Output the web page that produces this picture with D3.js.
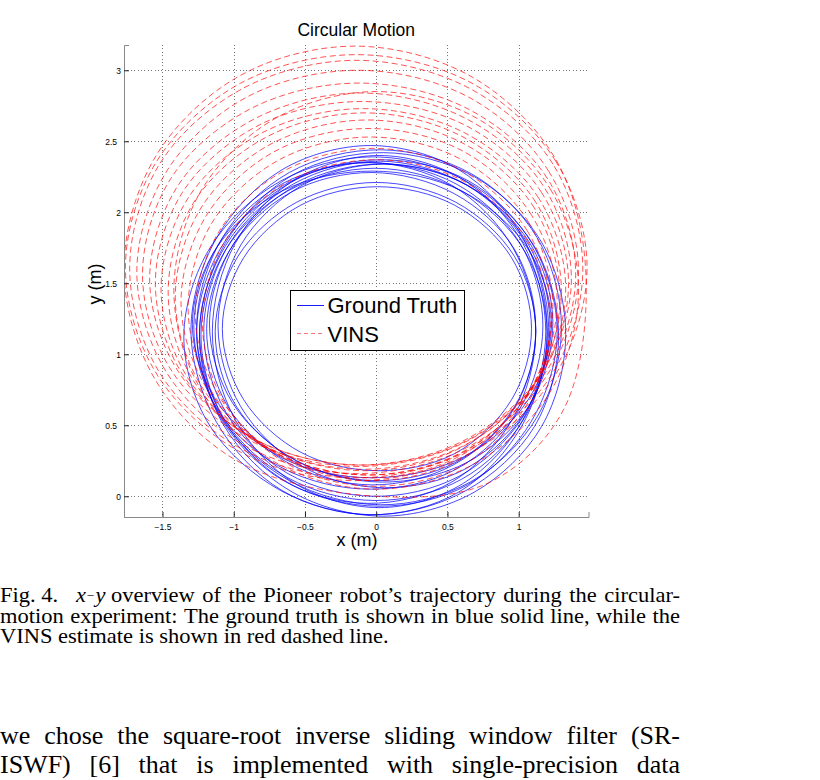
<!DOCTYPE html>
<html>
<head>
<meta charset="utf-8">
<script src="https://cdn.jsdelivr.net/npm/d3@7"></script>
<style>
  html, body { margin: 0; padding: 0; background: #fff; }
  svg { display: block; }
</style>
</head>
<body>
<svg id="chart" width="820" height="780"></svg>
<script>
// ---------------- DATA ----------------
const chartTitle = "Circular Motion";
const xLabel = "x (m)";
const yLabel = "y (m)";
const seriesNames = ["Ground Truth", "VINS"];
const xTicks = [-1.5, -1, -0.5, 0, 0.5, 1];
const yTicks = [0, 0.5, 1, 1.5, 2, 2.5, 3];
const xDomain = [-1.77, 1.49];
const yDomain = [-0.146, 3.178];

// Ground truth: successive laps, [x, y] points read around each lap
const groundTruth = [
  [[1.21,1.15],[1.05,1.78],[0.62,2.20],[0.02,2.36],[-0.58,2.20],[-1.03,1.78],[-1.21,1.18],[-1.06,0.60],[-0.62,0.16],[-0.02,0.00],[0.58,0.14],[1.03,0.56]],
  [[1.27,1.15],[1.10,1.77],[0.65,2.22],[0.02,2.37],[-0.60,2.21],[-1.06,1.76],[-1.24,1.16],[-1.07,0.54],[-0.61,0.09],[0.02,-0.07],[0.64,0.08],[1.09,0.53]],
  [[1.12,1.18],[0.97,1.74],[0.55,2.13],[-0.03,2.28],[-0.60,2.14],[-1.03,1.73],[-1.19,1.18],[-1.04,0.63],[-0.61,0.23],[-0.03,0.08],[0.54,0.22],[0.97,0.62]],
  [[1.33,1.14],[1.16,1.79],[0.69,2.25],[0.05,2.42],[-0.59,2.26],[-1.06,1.78],[-1.24,1.14],[-1.07,0.50],[-0.59,0.03],[0.05,-0.14],[0.69,0.03],[1.16,0.49]],
  [[1.17,1.20],[1.01,1.78],[0.56,2.20],[-0.05,2.35],[-0.66,2.20],[-1.11,1.77],[-1.28,1.20],[-1.12,0.62],[-0.66,0.20],[-0.05,0.05],[0.56,0.19],[1.01,0.62]],
  [[1.12,1.16],[0.97,1.69],[0.56,2.07],[0.00,2.21],[-0.56,2.07],[-0.97,1.69],[-1.13,1.16],[-0.98,0.63],[-0.56,0.25],[0.00,0.11],[0.56,0.24],[0.97,0.63]],
  [[1.30,1.19],[1.13,1.82],[0.67,2.27],[0.03,2.44],[-0.61,2.28],[-1.08,1.82],[-1.26,1.19],[-1.09,0.56],[-0.61,0.11],[0.03,-0.06],[0.66,0.10],[1.13,0.56]],
  [[1.12,1.15],[0.96,1.75],[0.53,2.19],[-0.06,2.35],[-0.65,2.19],[-1.09,1.75],[-1.26,1.15],[-1.09,0.55],[-0.65,0.11],[-0.06,-0.05],[0.53,0.10],[0.96,0.55]],
  [[1.24,1.22],[1.08,1.78],[0.64,2.19],[0.04,2.34],[-0.56,2.19],[-1.00,1.78],[-1.17,1.22],[-1.01,0.66],[-0.56,0.25],[0.04,0.10],[0.64,0.24],[1.08,0.65]],
  [[1.28,1.13],[1.11,1.76],[0.63,2.22],[-0.02,2.39],[-0.67,2.22],[-1.16,1.76],[-1.35,1.13],[-1.17,0.50],[-0.67,0.04],[-0.02,-0.13],[0.63,0.04],[1.11,0.49]],
  [[1.09,1.18],[0.95,1.68],[0.55,2.05],[0.01,2.18],[-0.53,2.05],[-0.93,1.68],[-1.08,1.18],[-0.93,0.68],[-0.53,0.31],[0.01,0.18],[0.55,0.30],[0.95,0.68]],
  [[1.20,1.17],[1.03,1.82],[0.58,2.30],[-0.04,2.47],[-0.66,2.30],[-1.12,1.82],[-1.30,1.17],[-1.12,0.52],[-0.66,0.04],[-0.04,-0.13],[0.58,0.03],[1.03,0.51]],
  [[1.22,1.20],[1.07,1.77],[0.64,2.19],[0.06,2.34],[-0.52,2.19],[-0.95,1.77],[-1.11,1.20],[-0.95,0.63],[-0.52,0.21],[0.06,0.06],[0.64,0.20],[1.07,0.63]],
  [[1.20,1.14],[1.04,1.73],[0.60,2.15],[-0.01,2.31],[-0.62,2.15],[-1.06,1.73],[-1.23,1.14],[-1.07,0.55],[-0.62,0.13],[-0.01,-0.03],[0.60,0.12],[1.04,0.55]],
  [[1.19,1.16],[1.03,1.78],[0.61,2.23],[0.02,2.40],[-0.57,2.23],[-0.99,1.78],[-1.15,1.16],[-0.99,0.54],[-0.57,0.09],[0.02,-0.08],[0.61,0.09],[1.03,0.54]],
  [[1.23,1.21],[1.06,1.75],[0.60,2.15],[-0.03,2.29],[-0.66,2.15],[-1.12,1.75],[-1.29,1.21],[-1.12,0.67],[-0.66,0.27],[-0.03,0.13],[0.60,0.27],[1.06,0.67]]
];

// VINS estimate: drifting laps, [x, y] points read around each lap
const vins = [
  [[1.22,1.22],[1.06,1.80],[0.61,2.22],[0.00,2.37],[-0.61,2.22],[-1.06,1.80],[-1.22,1.22],[-1.06,0.65],[-0.61,0.22],[0.00,0.07],[0.61,0.22],[1.06,0.65]],
  [[1.23,1.28],[1.06,1.87],[0.61,2.29],[-0.02,2.45],[-0.65,2.29],[-1.10,1.87],[-1.27,1.28],[-1.10,0.70],[-0.65,0.27],[-0.02,0.11],[0.61,0.27],[1.06,0.70]],
  [[1.24,1.33],[1.07,1.93],[0.60,2.37],[-0.04,2.53],[-0.68,2.37],[-1.15,1.93],[-1.32,1.33],[-1.15,0.73],[-0.68,0.29],[-0.04,0.13],[0.60,0.29],[1.07,0.73]],
  [[1.27,1.37],[1.09,1.98],[0.61,2.43],[-0.05,2.59],[-0.71,2.43],[-1.19,1.98],[-1.37,1.37],[-1.19,0.76],[-0.71,0.31],[-0.05,0.15],[0.61,0.31],[1.09,0.76]],
  [[1.29,1.40],[1.11,2.03],[0.62,2.48],[-0.06,2.65],[-0.74,2.48],[-1.23,2.03],[-1.41,1.40],[-1.23,0.78],[-0.74,0.32],[-0.06,0.15],[0.62,0.32],[1.11,0.78]],
  [[1.30,1.44],[1.12,2.07],[0.61,2.53],[-0.08,2.70],[-0.77,2.53],[-1.28,2.07],[-1.46,1.44],[-1.28,0.81],[-0.77,0.35],[-0.08,0.18],[0.61,0.35],[1.12,0.81]],
  [[1.33,1.46],[1.14,2.10],[0.62,2.56],[-0.09,2.73],[-0.80,2.56],[-1.32,2.10],[-1.51,1.46],[-1.32,0.83],[-0.80,0.36],[-0.09,0.19],[0.62,0.36],[1.14,0.83]],
  [[1.35,1.50],[1.16,2.14],[0.63,2.61],[-0.10,2.78],[-0.83,2.61],[-1.36,2.14],[-1.55,1.50],[-1.36,0.86],[-0.83,0.39],[-0.10,0.22],[0.63,0.39],[1.16,0.86]],
  [[1.37,1.53],[1.17,2.19],[0.63,2.66],[-0.11,2.84],[-0.85,2.66],[-1.39,2.19],[-1.59,1.53],[-1.39,0.88],[-0.85,0.40],[-0.11,0.22],[0.63,0.40],[1.17,0.88]],
  [[1.40,1.56],[1.20,2.24],[0.64,2.73],[-0.12,2.91],[-0.88,2.73],[-1.44,2.24],[-1.64,1.56],[-1.44,0.89],[-0.88,0.39],[-0.12,0.21],[0.64,0.39],[1.20,0.89]],
  [[1.42,1.58],[1.21,2.29],[0.65,2.81],[-0.13,3.00],[-0.91,2.81],[-1.47,2.29],[-1.68,1.58],[-1.47,0.87],[-0.91,0.35],[-0.13,0.16],[0.65,0.35],[1.21,0.87]],
  [[1.45,1.60],[1.24,2.34],[0.66,2.87],[-0.14,3.07],[-0.94,2.87],[-1.52,2.34],[-1.73,1.60],[-1.52,0.87],[-0.94,0.33],[-0.14,0.13],[0.66,0.33],[1.24,0.87]],
  [[1.48,1.61],[1.26,2.36],[0.67,2.91],[-0.14,3.11],[-0.95,2.91],[-1.54,2.36],[-1.76,1.61],[-1.54,0.86],[-0.95,0.31],[-0.14,0.11],[0.67,0.31],[1.26,0.86]],
  [[1.47,1.60],[1.25,2.39],[0.66,2.96],[-0.15,3.17],[-0.96,2.96],[-1.55,2.39],[-1.77,1.60],[-1.55,0.82],[-0.96,0.24],[0.00,0.00],[0.80,0.10],[1.32,0.62]],
  [[1.42,1.45],[1.23,2.15],[0.71,2.66],[0.00,2.85],[-0.71,2.66],[-1.23,2.15],[-1.42,1.45],[-1.23,0.75],[-0.71,0.24],[0.00,0.05],[0.71,0.24],[1.23,0.75]]
];

const captionLines = [
  "overview of the Pioneer robot’s trajectory during the circular-",
  "motion experiment: The ground truth is shown in blue solid line, while the",
  "VINS estimate is shown in red dashed line."
];
const bodyLines = [
  "we chose the square-root inverse sliding window filter (SR-",
  "ISWF) [6] that is implemented with single-precision data"
];

// ---------------- LAYOUT ----------------
const plot = { left: 124, right: 588.5, top: 45, bottom: 517 };
const svg = d3.select("#chart");
svg.append("rect").attr("width", 820).attr("height", 780).attr("fill", "#fff");

const x = d3.scaleLinear().domain(xDomain).range([plot.left, plot.right]);
const y = d3.scaleLinear().domain(yDomain).range([plot.bottom, plot.top]);

const sans = "'Liberation Sans', Arial, Helvetica, sans-serif";
const serif = "'Liberation Serif', 'Times New Roman', Times, serif";

// grid
const grid = svg.append("g").attr("stroke", "#777").attr("stroke-width", 1)
  .attr("stroke-dasharray", "1,2.4").attr("shape-rendering", "crispEdges");
grid.selectAll("line.v").data(xTicks).join("line").attr("class", "v")
  .attr("x1", d => Math.round(x(d)) + 0.5).attr("x2", d => Math.round(x(d)) + 0.5)
  .attr("y1", plot.top).attr("y2", plot.bottom);
grid.selectAll("line.h").data(yTicks).join("line").attr("class", "h")
  .attr("y1", d => Math.round(y(d)) + 0.5).attr("y2", d => Math.round(y(d)) + 0.5)
  .attr("x1", plot.left).attr("x2", plot.right);

// data
const line = d3.line().x(d => x(d[0])).y(d => y(d[1])).curve(d3.curveCatmullRomClosed.alpha(0.5));
svg.append("clipPath").attr("id", "clip").append("rect")
  .attr("x", plot.left).attr("y", plot.top)
  .attr("width", plot.right - plot.left).attr("height", plot.bottom - plot.top);

const dataG = svg.append("g").attr("clip-path", "url(#clip)");
dataG.selectAll("path.gt").data(groundTruth).join("path").attr("class", "gt")
  .attr("d", line).attr("fill", "none").attr("stroke", "#0000ff")
  .attr("stroke-width", 0.8).attr("stroke-opacity", 0.9);
dataG.selectAll("path.vins").data(vins).join("path").attr("class", "vins")
  .attr("d", line).attr("fill", "none").attr("stroke", "#ff0000")
  .attr("stroke-width", 0.8).attr("stroke-opacity", 0.85)
  .attr("stroke-dasharray", "6,3.5");

// axes
const fmt = d => (d < 0 ? "\u2212" : "") + Math.abs(d);
const xAxis = svg.append("g").attr("transform", `translate(0,${plot.bottom})`)
  .call(d3.axisBottom(x).tickValues(xTicks).tickSize(-5).tickPadding(6.5).tickFormat(fmt));
const yAxis = svg.append("g").attr("transform", `translate(${plot.left},0)`)
  .call(d3.axisLeft(y).tickValues(yTicks).tickSize(-5).tickPadding(4).tickFormat(fmt));
[xAxis, yAxis].forEach(a => {
  a.select(".domain").attr("stroke", "#888");
  a.selectAll(".tick line").attr("stroke", "#222");
  a.selectAll("text").attr("font-family", sans).attr("font-size", 8.5).attr("fill", "#000");
});
yAxis.selectAll(".tick text").attr("x", d => Number.isInteger(d) ? -3 : -7);

// titles
svg.append("text").attr("x", (plot.left + plot.right) / 2).attr("y", 36)
  .attr("text-anchor", "middle").attr("font-family", sans).attr("font-size", 17.5)
  .text(chartTitle);
svg.append("text").attr("x", 357).attr("y", 546)
  .attr("text-anchor", "middle").attr("font-family", sans).attr("font-size", 18)
  .text(xLabel);
svg.append("text").attr("transform", "translate(101,284) rotate(-90)")
  .attr("text-anchor", "middle").attr("font-family", sans).attr("font-size", 18)
  .text(yLabel);

// legend
const leg = svg.append("g");
leg.append("rect").attr("x", 290.5).attr("y", 290.5).attr("width", 174).attr("height", 60)
  .attr("fill", "#fff").attr("stroke", "#000").attr("stroke-width", 1);
const legItems = [
  { name: seriesNames[0], color: "#0000ff", dash: null, ly: 305.5, ty: 313 },
  { name: seriesNames[1], color: "#ff0000", dash: "4,3", ly: 333.5, ty: 341.5 }
];
legItems.forEach(it => {
  leg.append("line").attr("x1", 297).attr("x2", 324).attr("y1", it.ly).attr("y2", it.ly)
    .attr("stroke", it.color).attr("stroke-width", 0.9)
    .attr("stroke-opacity", it.dash ? 0.6 : 1)
    .attr("stroke-dasharray", it.dash);
  leg.append("text").attr("x", 327.5).attr("y", it.ty).attr("font-family", sans)
    .attr("font-size", 22).text(it.name);
});

// caption + body text (justified)
function justify(words, x0, x1, baseline, size, sy) {
  const g = svg.append("g").attr("transform", `translate(0,${baseline}) scale(1,${sy})`);
  const nodes = words.map(w => g.append("text").attr("font-family", serif)
    .attr("font-size", size).attr("y", 0).text(w));
  const widths = nodes.map(n => n.node().getComputedTextLength());
  const gap = (x1 - x0 - d3.sum(widths)) / (words.length - 1);
  let cx = x0;
  nodes.forEach((n, i) => { n.attr("x", cx); cx += widths[i] + gap; });
}
function plain(str, x0, baseline, size, sy, style) {
  svg.append("g").attr("transform", `translate(0,${baseline}) scale(1,${sy})`)
    .append("text").attr("x", x0).attr("y", 0).attr("font-family", serif)
    .attr("font-style", style || "normal")
    .attr("font-size", size).text(str);
}
const capSize = 22.5, capSy = 0.92;
plain("Fig. 4.", 0, 602, capSize, capSy);
plain("x", 76, 602, capSize, capSy, "italic");
plain("\u2212", 86.5, 599.5, 13.5, capSy);
plain("y", 95.5, 602, capSize, capSy, "italic");
justify(captionLines[0].split(" "), 111, 680, 602, capSize, capSy);
justify(captionLines[1].split(" "), 0, 680, 622.5, capSize, capSy);
plain(captionLines[2], 0, 643, capSize, capSy);

justify(bodyLines[0].split(" "), 0, 680, 744, 26, 1);
justify(bodyLines[1].split(" "), 0, 680, 772.5, 26, 1);
</script>
</body>
</html>
